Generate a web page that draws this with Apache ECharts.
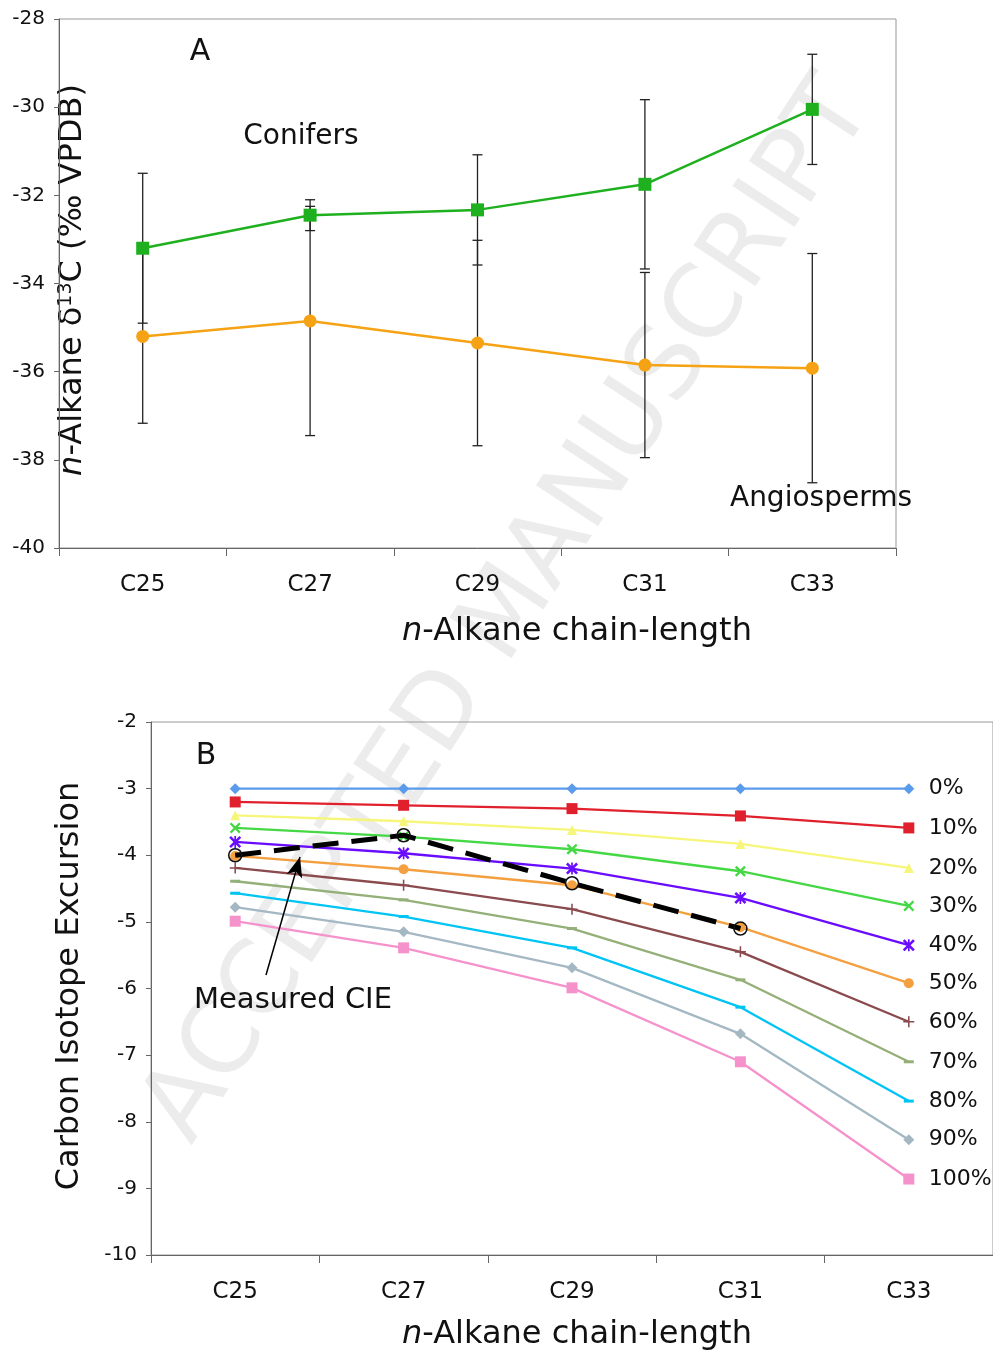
<!DOCTYPE html>
<html>
<head>
<meta charset="utf-8">
<script src="https://cdn.jsdelivr.net/npm/echarts@6/dist/echarts.min.js"></script>
<style>
  html, body { margin: 0; padding: 0; background: #fff; }
  #chart { width: 993px; height: 1351px; }
</style>
</head>
<body>
<div id="chart"></div>
<script>
const FONT = 'DejaVu Sans';

// panel A
const categories = ['C25', 'C27', 'C29', 'C31', 'C33'];
const coniferMean = [-33.2, -32.45, -32.33, -31.75, -30.05];
const coniferErr = [1.7, 0.35, 1.25, 1.92, 1.25];
const angioMean = [-35.2, -34.85, -35.35, -35.85, -35.92];
const angioErr = [1.97, 2.6, 2.33, 2.1, 2.6];

// panel B - mixing lines
const mixNames = ['0%', '10%', '20%', '30%', '40%', '50%', '60%', '70%', '80%', '90%', '100%'];
const mix0 = [-3, -3, -3, -3, -3];
const mix10 = [-3.2, -3.25, -3.3, -3.41, -3.59];
const mix20 = [-3.4, -3.49, -3.62, -3.83, -4.19];
const mix30 = [-3.59, -3.72, -3.91, -4.24, -4.76];
const mix40 = [-3.8, -3.97, -4.2, -4.64, -5.35];
const mix50 = [-4.01, -4.21, -4.45, -5.08, -5.92];
const mix60 = [-4.19, -4.45, -4.81, -5.45, -6.5];
const mix70 = [-4.39, -4.67, -5.1, -5.87, -7.1];
const mix80 = [-4.57, -4.92, -5.39, -6.28, -7.69];
const mix90 = [-4.78, -5.15, -5.69, -6.68, -8.27];
const mix100 = [-4.99, -5.39, -5.99, -7.1, -8.86];
const measured = [-4.0, -3.7, -4.42, -5.1, null];

const yTicksA = { min: -40, max: -28, interval: 2 };
const yTicksB = { min: -10, max: -2, interval: 1 };

const mixColors = ['#5b9beb', '#e0202c', '#f6f67a', '#44d844', '#6a0cff', '#f4a040',
    '#8a4a4e', '#94b078', '#00c4f4', '#a4b8c4', '#f592cc'];

const X_PATH = 'path://M0,1.5 L1.5,0 L5,3.5 L8.5,0 L10,1.5 L6.5,5 L10,8.5 L8.5,10 L5,6.5 L1.5,10 L0,8.5 L3.5,5 Z';
const STAR_PATH = 'path://M0,1.5 L1.5,0 L5,3.5 L8.5,0 L10,1.5 L6.5,5 L10,8.5 L8.5,10 L5,6.5 L1.5,10 L0,8.5 L3.5,5 Z M4.3,0 L5.7,0 L5.7,10 L4.3,10 Z';
const PLUS_PATH = 'path://M4.3,0 H5.7 V4.3 H10 V5.7 H5.7 V10 H4.3 V5.7 H0 V4.3 H4.3 Z';
const DASH_PATH = 'path://M0,0 H10 V2 H0 Z';

const mixSymbols = [
    ['diamond', 11], ['rect', 11], ['triangle', 10], [X_PATH, 11], [STAR_PATH, 12], ['circle', 10],
    [PLUS_PATH, 11], [DASH_PATH, [10, 3]], [DASH_PATH, [10, 3]], ['diamond', 11], ['rect', 11]
];
const mixData = [mix0, mix10, mix20, mix30, mix40, mix50, mix60, mix70, mix80, mix90, mix100];

function errorBars(mean, err) {
    return mean.map((m, i) => [i, m - err[i], m + err[i]]);
}

function renderErr(params, api) {
    const hi = api.coord([api.value(0), api.value(2)]);
    const lo = api.coord([api.value(0), api.value(1)]);
    const w = 5;
    const st = { stroke: '#222', lineWidth: 1.3 };
    return {
        type: 'group',
        children: [
            { type: 'line', shape: { x1: hi[0], y1: hi[1], x2: lo[0], y2: lo[1] }, style: st },
            { type: 'line', shape: { x1: hi[0] - w, y1: hi[1], x2: hi[0] + w, y2: hi[1] }, style: st },
            { type: 'line', shape: { x1: lo[0] - w, y1: lo[1], x2: lo[0] + w, y2: lo[1] }, style: st }
        ]
    };
}

const catAxis = (gridIndex) => ({
    type: 'category',
    gridIndex: gridIndex,
    data: categories,
    boundaryGap: true,
    axisLine: { lineStyle: { color: '#666', width: 1 } },
    axisTick: { show: true, length: 8, lineStyle: { color: '#666' } },
    axisLabel: { color: '#111', fontSize: 23, fontFamily: FONT, margin: 26 },
    splitLine: { show: false }
});

const valAxis = (gridIndex, t) => ({
    type: 'value',
    gridIndex: gridIndex,
    min: t.min, max: t.max, interval: t.interval,
    axisLine: { show: true, lineStyle: { color: '#666', width: 1 } },
    axisTick: { show: true, length: 5, lineStyle: { color: '#666' } },
    axisLabel: { color: '#111', fontSize: 20, fontFamily: FONT, margin: 14 },
    splitLine: { show: false }
});

const series = [
    {
        type: 'custom', name: 'conifer err', xAxisIndex: 0, yAxisIndex: 0, z: 1,
        renderItem: renderErr, data: errorBars(coniferMean, coniferErr), encode: { x: 0, y: [1, 2] }
    },
    {
        type: 'custom', name: 'angio err', xAxisIndex: 0, yAxisIndex: 0, z: 1,
        renderItem: renderErr, data: errorBars(angioMean, angioErr), encode: { x: 0, y: [1, 2] }
    },
    {
        type: 'line', name: 'Conifers', xAxisIndex: 0, yAxisIndex: 0, z: 3,
        data: coniferMean, symbol: 'rect', symbolSize: 13,
        lineStyle: { color: '#1eb01e', width: 2.5 }, itemStyle: { color: '#1eb01e' }
    },
    {
        type: 'line', name: 'Angiosperms', xAxisIndex: 0, yAxisIndex: 0, z: 3,
        data: angioMean, symbol: 'circle', symbolSize: 13,
        lineStyle: { color: '#f5a214', width: 2.5 }, itemStyle: { color: '#f5a214' }
    }
];

mixNames.forEach((name, k) => {
    series.push({
        type: 'line', name: name, xAxisIndex: 1, yAxisIndex: 1, z: 3,
        data: mixData[k],
        symbol: mixSymbols[k][0], symbolSize: mixSymbols[k][1],
        lineStyle: { color: mixColors[k], width: 2.3 },
        itemStyle: { color: mixColors[k] },
        endLabel: {
            show: true, formatter: '{a}', distance: 20,
            fontSize: 22, fontFamily: FONT, color: '#111'
        }
    });
});

series.push({
    type: 'line', name: 'Measured CIE', xAxisIndex: 1, yAxisIndex: 1, z: 5,
    data: measured,
    symbol: 'circle', symbolSize: 13,
    lineStyle: { color: '#000', width: 5, type: [26, 13] },
    itemStyle: { color: 'rgba(0,0,0,0)', borderColor: '#111', borderWidth: 1.6 },
    markLine: {
        silent: true,
        symbol: ['none', 'arrow'],
        symbolSize: [12, 20],
        label: { show: false },
        lineStyle: { color: '#000', width: 1.5, type: 'solid' },
        data: [[{ x: 266, y: 975 }, { x: 300, y: 857 }]]
    }
});

const chart = echarts.init(document.getElementById('chart'));
chart.setOption({
    animation: false,
    backgroundColor: '#fff',
    grid: [
        { left: 59, top: 19, width: 837, height: 529, show: true, borderColor: '#999', borderWidth: 1, backgroundColor: 'transparent' },
        { left: 151, top: 722, width: 842, height: 533, show: true, borderColor: '#999', borderWidth: 1, backgroundColor: 'transparent' }
    ],
    xAxis: [catAxis(0), catAxis(1)],
    yAxis: [valAxis(0, yTicksA), valAxis(1, yTicksB)],
    graphic: [
        {
            type: 'text', x: 510, y: 612, rotation: 0.99, z: -1, silent: true,
            style: {
                text: 'ACCEPTED MANUSCRIPT', fontSize: 102, fontFamily: FONT,
                fill: 'rgba(0,0,0,0.075)', align: 'center', verticalAlign: 'middle'
            }
        },
        {
            type: 'text', x: 200, y: 52,
            style: { text: 'A', fontSize: 30, fontFamily: FONT, fill: '#111', align: 'center', verticalAlign: 'middle' }
        },
        {
            type: 'text', x: 301, y: 137,
            style: { text: 'Conifers', fontSize: 28, fontFamily: FONT, fill: '#111', align: 'center', verticalAlign: 'middle' }
        },
        {
            type: 'text', x: 821, y: 499,
            style: { text: 'Angiosperms', fontSize: 28, fontFamily: FONT, fill: '#111', align: 'center', verticalAlign: 'middle' }
        },
        {
            type: 'text', x: 73, y: 280, rotation: Math.PI / 2,
            style: {
                text: '{it|n}-Alkane δ{sup|13}C (‰ VPDB)',
                fontSize: 32, fontFamily: FONT, fill: '#111', align: 'center', verticalAlign: 'middle',
                rich: {
                    it: { fontSize: 32, fontStyle: 'italic', fontFamily: FONT, fill: '#111' },
                    sup: { fontSize: 19, fontFamily: FONT, fill: '#111', verticalAlign: 'top' }
                }
            }
        },
        {
            type: 'text', x: 577, y: 632,
            style: {
                text: '{it|n}-Alkane chain-length', fontSize: 32, fontFamily: FONT, fill: '#111',
                align: 'center', verticalAlign: 'middle',
                rich: { it: { fontSize: 32, fontStyle: 'italic', fontFamily: FONT, fill: '#111' } }
            }
        },
        {
            type: 'text', x: 206, y: 756,
            style: { text: 'B', fontSize: 30, fontFamily: FONT, fill: '#111', align: 'center', verticalAlign: 'middle' }
        },
        {
            type: 'text', x: 293, y: 1000,
            style: { text: 'Measured CIE', fontSize: 29, fontFamily: FONT, fill: '#111', align: 'center', verticalAlign: 'middle' }
        },
        {
            type: 'text', x: 70, y: 986, rotation: Math.PI / 2,
            style: { text: 'Carbon Isotope Excursion', fontSize: 32, fontFamily: FONT, fill: '#111', align: 'center', verticalAlign: 'middle' }
        },
        {
            type: 'text', x: 577, y: 1335,
            style: {
                text: '{it|n}-Alkane chain-length', fontSize: 32, fontFamily: FONT, fill: '#111',
                align: 'center', verticalAlign: 'middle',
                rich: { it: { fontSize: 32, fontStyle: 'italic', fontFamily: FONT, fill: '#111' } }
            }
        }
    ],
    series: series
});
</script>
</body>
</html>
